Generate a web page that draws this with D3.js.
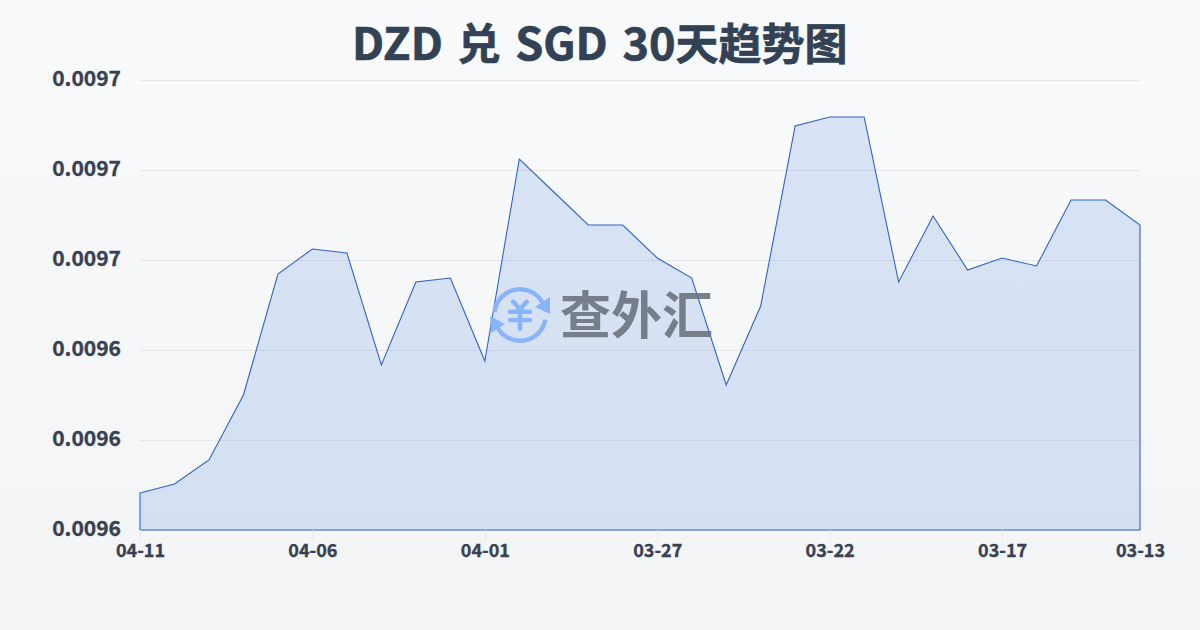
<!DOCTYPE html>
<html>
<head>
<meta charset="utf-8">
<script src="https://cdnjs.cloudflare.com/ajax/libs/d3/7.8.5/d3.min.js"></script>
<style>
    html, body { margin: 0; padding: 0; width: 1200px; height: 630px; overflow: hidden; }
    svg { display: block; }
    text { font-family: "Noto Sans CJK SC", "Noto Sans", sans-serif; }
</style>
</head>
<body>
<div id="chart"></div>
<script>
const titleLatin = ['DZD ', '兑', ' SGD 30'];
const titleTail = '天趋势图';
const watermarkText = '查外汇';

const dates = ['04-11','04-10','04-09','04-08','04-07','04-06','04-05','04-04','04-03','04-02',
    '04-01','03-31','03-30','03-29','03-28','03-27','03-26','03-25','03-24','03-23',
    '03-22','03-21','03-20','03-19','03-18','03-17','03-16','03-15','03-14','03-13'];
const rates = [0.00960822,0.00961022,0.00961556,0.00963000,0.00965689,0.00966244,0.00966156,0.00963667,0.00965511,0.00965600,
    0.00963756,0.00968244,0.00967511,0.00966778,0.00966778,0.00966044,0.00965600,0.00963222,0.00964978,0.00968978,
    0.00969178,0.00969178,0.00965511,0.00966978,0.00965778,0.00966044,0.00965867,0.00967333,0.00967333,0.00966778];
const xTickLabels = ['04-11','04-06','04-01','03-27','03-22','03-17','03-13'];
const yTickValues = [0.0096,0.00962,0.00964,0.00966,0.00968,0.0097];

const width = 1200, height = 630;
const margin = { top: 80, right: 60, bottom: 100, left: 140 };
const innerW = width - margin.left - margin.right;
const innerH = height - margin.top - margin.bottom;

const svg = d3.select('#chart').append('svg')
    .attr('width', width)
    .attr('height', height);

// Page background
const defs = svg.append('defs');
const bg = defs.append('linearGradient').attr('id', 'bg')
    .attr('x1', 0).attr('y1', 0).attr('x2', 0).attr('y2', 1);
bg.append('stop').attr('offset', '0%').attr('stop-color', '#f8fafc');
bg.append('stop').attr('offset', '100%').attr('stop-color', '#f3f4f6');

svg.append('rect').attr('width', width).attr('height', height).attr('fill', 'url(#bg)');

const chart = svg.append('g').attr('transform', `translate(${margin.left},${margin.top})`);

const xScale = d3.scalePoint().domain(dates).range([0, innerW]);
const yScale = d3.scaleLinear().domain([0.0096, 0.0097]).range([innerH, 0]);

// Grid lines
chart.append('g')
    .call(d3.axisLeft(yScale).tickValues(yTickValues).tickSize(-innerW).tickFormat(''))
    .call(ax => {
        ax.select('.domain').remove();
        ax.selectAll('line').attr('stroke', '#e5e7eb').attr('stroke-width', 1);
    });

// Area, stroked all round
const area = d3.area()
    .x(d => xScale(d.date))
    .y0(innerH)
    .y1(d => yScale(d.rate));

chart.append('path')
    .datum(dates.map((date, i) => ({ date, rate: rates[i] })))
    .attr('d', area)
    .attr('fill', '#2a62d8')
    .attr('fill-opacity', 0.15)
    .attr('stroke', '#2f62c8')
    .attr('stroke-width', 1.1);

// Axes
chart.append('g')
    .attr('transform', `translate(0,${innerH})`)
    .call(d3.axisBottom(xScale).tickValues(xTickLabels).tickSize(10).tickPadding(4))
    .call(ax => {
        ax.select('.domain').remove();
        ax.selectAll('line').attr('stroke', '#e5e7eb');
        ax.selectAll('text').attr('fill', '#374151').attr('font-size', '18px').attr('font-weight', 700)
            .attr('stroke', '#374151').attr('stroke-width', 0.35);
    });

chart.append('g')
    .call(d3.axisLeft(yScale).tickValues(yTickValues).tickSize(0).tickPadding(19).tickFormat(d => d.toFixed(4)))
    .call(ax => {
        ax.select('.domain').remove();
        ax.selectAll('text').attr('fill', '#374151').attr('font-size', '21px').attr('font-weight', 700)
            .attr('stroke', '#374151').attr('stroke-width', 0.35)
            .attr('dy', '0.26em');
    });

// Title
const title = svg.append('text')
    .attr('x', 352)
    .attr('y', 60)
    .attr('fill', '#334155')
    .attr('stroke', '#334155')
    .attr('stroke-width', 0.7)
    .attr('font-size', '45px')
    .attr('font-weight', 700)
    .attr('word-spacing', '4.5px')
    .attr('xml:space', 'preserve')
    .style('white-space', 'pre');
title.append('tspan').text(titleLatin[0]);
title.append('tspan').attr('font-size', '43px').text(titleLatin[1]);
title.append('tspan').text(titleLatin[2]);
title.append('tspan').attr('font-size', '43px').text(titleTail);

// Watermark logo
const logo = svg.append('g').attr('transform', 'translate(520,315)');
const logoBlue = '#8ab4f8';
const ring = d3.arc().innerRadius(23.5).outerRadius(28);
logo.append('path').attr('d', ring({ startAngle: -1.45, endAngle: 1.2 })).attr('fill', logoBlue);
logo.append('path').attr('d', ring({ startAngle: 1.75, endAngle: 4.25 })).attr('fill', logoBlue);
logo.append('path').attr('d', 'M30,-18 L30,-1 L15,-8 Z').attr('fill', logoBlue);
logo.append('path').attr('d', 'M-30,1 L-15,9 L-29,18 Z').attr('fill', logoBlue);
logo.append('path')
    .attr('d', 'M-6.7,-13.3 L0,-5.7 L6.7,-13.3 M-10,-3.3 H10 M-10,5 H10 M0,-5.7 V14')
    .attr('fill', 'none')
    .attr('stroke', logoBlue)
    .attr('stroke-width', 4.5)
    .attr('stroke-linecap', 'round')
    .attr('stroke-linejoin', 'round');

svg.append('text')
    .attr('x', 560)
    .attr('y', 334)
    .attr('fill', '#6b7280')
    .attr('fill-opacity', 0.9)
    .attr('font-size', '51px')
    .attr('font-weight', 700)
    .text(watermarkText);
</script>
</body>
</html>
